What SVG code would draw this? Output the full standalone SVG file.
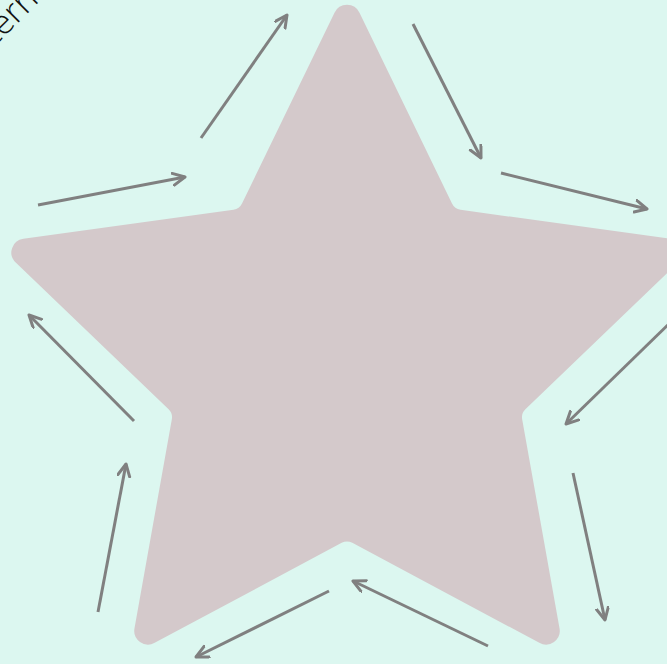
<svg xmlns="http://www.w3.org/2000/svg" width="667" height="664" viewBox="0 0 667 664">
<style>
.conn{fill:none;stroke:#808080;stroke-width:3;marker-end:url(#ah)}
.star{fill:#d4c9cb;stroke:none}
.lbl{font-family:"Open Sans","Liberation Sans",sans-serif;font-weight:300;font-size:34px;fill:#111}
</style>
<defs>
<marker id="ah" markerUnits="userSpaceOnUse" markerWidth="20" markerHeight="20" refX="13" refY="7" orient="auto">
<path d="M1,1 L13,7 L1,13" fill="none" stroke="#808080" stroke-width="3" stroke-linecap="round" stroke-linejoin="round"/>
</marker>
</defs>
<rect width="667" height="664" fill="#dcf7f0"/>
<g id="star">
<path class="star" d="M334.5,12.7 A13.8,13.8 0 0 1 359.5,12.7 L452.0,203.6 Q454.6,209 460.5,209.8 L670.6,238.8 A13.8,13.8 0 0 1 678.3,262.5 L525.4,409.3 Q521.1,413.5 522.2,419.4 L559.5,628.2 A13.8,13.8 0 0 1 539.3,642.8 L352.3,542.8 Q347,540 341.7,542.8 L154.7,642.8 A13.8,13.8 0 0 1 134.5,628.2 L171.8,419.4 Q172.9,413.5 168.6,409.3 L15.7,262.5 A13.8,13.8 0 0 1 23.4,238.8 L233.5,209.8 Q239.4,209 242.0,203.6 Z"/>
</g>
<g id="title">
<text class="lbl" transform="translate(40,1) rotate(-45)" text-anchor="end">Pattern</text>
</g>
<g id="connectors">
<line class="conn" x1="201" y1="138" x2="287" y2="15"/>
<line class="conn" x1="38" y1="205" x2="185" y2="177"/>
<line class="conn" x1="413" y1="24" x2="481" y2="158"/>
<line class="conn" x1="501" y1="173" x2="647" y2="209"/>
<line class="conn" x1="675" y1="318" x2="566" y2="424"/>
<line class="conn" x1="573" y1="473" x2="605" y2="620"/>
<line class="conn" x1="488" y1="646" x2="353" y2="581"/>
<line class="conn" x1="329" y1="591" x2="196" y2="657"/>
<line class="conn" x1="98" y1="612" x2="126" y2="464"/>
<line class="conn" x1="134" y1="421" x2="29" y2="315"/>
</g>
</svg>
